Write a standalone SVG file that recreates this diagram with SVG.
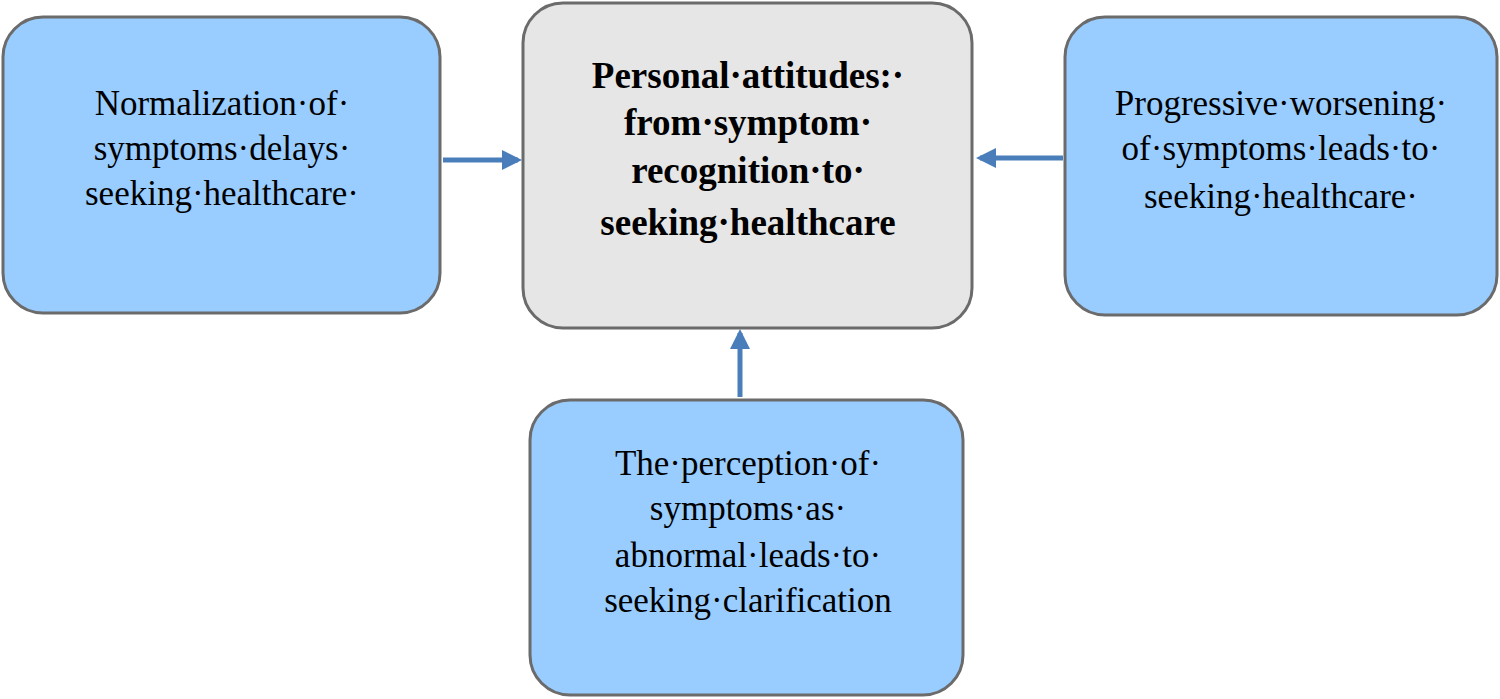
<svg xmlns="http://www.w3.org/2000/svg" width="1500" height="699" viewBox="0 0 1500 699">
<style>
.b{fill:#99ccff;stroke:#6b6b6b;stroke-width:3}
.c{fill:#e6e6e6;stroke:#6b6b6b;stroke-width:3}
text{font-family:"Liberation Serif",serif;font-size:35px;text-anchor:middle;fill:#000}
.t{font-weight:bold;font-size:37px}
.a{stroke:#4a7ebb;stroke-width:5;fill:none;marker-end:url(#m)}
</style>
<defs><marker id="m" viewBox="0 0 10 10" refX="8" refY="5" markerWidth="4" markerHeight="4" orient="auto"><path d="M0,0L10,5L0,10z" fill="#4a7ebb"/></marker></defs>
<g id="connectors">
<line class="a" x1="443" y1="160" x2="518" y2="160"/>
<line class="a" x1="1063" y1="158" x2="980" y2="158"/>
<line class="a" x1="740" y1="397" x2="740" y2="333"/>
</g>
<g id="left"><rect class="b" x="3" y="17" width="437" height="296" rx="40"/>
<text x="222" y="115">Normalization·of·</text><text x="222" y="160">symptoms·delays·</text><text x="222" y="205">seeking·healthcare·</text></g>
<g id="center"><rect class="c" x="523" y="3" width="449" height="325" rx="40"/>
<text class="t" x="748" y="88">Personal·attitudes:·</text><text class="t" x="748" y="135">from·symptom·</text><text class="t" x="748" y="183">recognition·to·</text><text class="t" x="748" y="235">seeking·healthcare</text></g>
<g id="right"><rect class="b" x="1065" y="17" width="432" height="298" rx="40"/>
<text x="1281" y="115">Progressive·worsening·</text><text x="1281" y="160">of·symptoms·leads·to·</text><text x="1281" y="208">seeking·healthcare·</text></g>
<g id="bottom"><rect class="b" x="530" y="400" width="433" height="295" rx="40"/>
<text x="748" y="475">The·perception·of·</text><text x="748" y="520">symptoms·as·</text><text x="748" y="567">abnormal·leads·to·</text><text x="748" y="612">seeking·clarification</text></g>
</svg>
